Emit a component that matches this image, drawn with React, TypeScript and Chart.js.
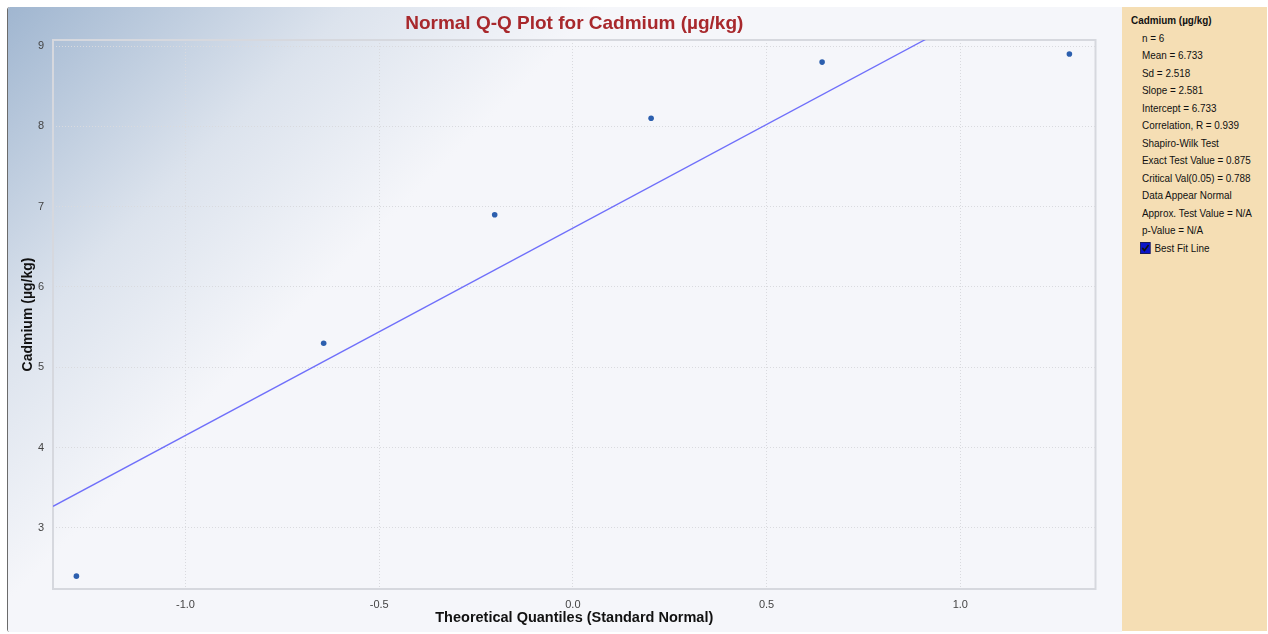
import { useEffect, useRef } from 'react';
import { Chart, registerables } from 'chart.js';

Chart.register(...registerables);

// ---- Data ----
const theoreticalQuantiles = [-1.2816, -0.6433, -0.2019, 0.2019, 0.6433, 1.2816];
const cadmiumValues = [2.4, 5.3, 6.9, 8.1, 8.8, 8.9];
const fitSlope = 2.581;
const fitIntercept = 6.733;
const xRange = [-1.342, 1.349];
const yRange = [2.24, 9.075];
const xTicks = [-1.0, -0.5, 0.0, 0.5, 1.0];
const yTicks = [3, 4, 5, 6, 7, 8, 9];
const statsTitle = 'Cadmium (µg/kg)';
const statsLines = [
  'n = 6',
  'Mean = 6.733',
  'Sd = 2.518',
  'Slope = 2.581',
  'Intercept = 6.733',
  'Correlation, R = 0.939',
  'Shapiro-Wilk Test',
  'Exact Test Value = 0.875',
  'Critical Val(0.05) = 0.788',
  'Data Appear Normal',
  'Approx. Test Value = N/A',
  'p-Value = N/A',
];
const fitLabel = 'Best Fit Line';

const FONT = "'Liberation Sans', Arial, sans-serif";

const bgPlugin = {
  id: 'bgPlugin',
  beforeDraw(chart: any) {
    const { ctx, width, height } = chart;
    ctx.save();
    const g = ctx.createLinearGradient(0, 0, 450, 450);
    g.addColorStop(0, '#a0b6d0');
    g.addColorStop(0.38, '#dce3ed');
    g.addColorStop(0.66, '#f5f6fa');
    g.addColorStop(1, '#f5f6fa');
    ctx.fillStyle = g;
    ctx.fillRect(0, 0, width, height);
    ctx.restore();
  },
  beforeDatasetsDraw(chart: any) {
    const { ctx, chartArea: a } = chart;
    ctx.save();
    ctx.strokeStyle = '#d6d8de';
    ctx.lineWidth = 2;
    ctx.strokeRect(a.left, a.top, a.right - a.left, a.bottom - a.top);
    ctx.restore();
  },
};

export default function App() {
  const ref = useRef<HTMLCanvasElement>(null);

  useEffect(() => {
    if (!ref.current) return;
    const points = theoreticalQuantiles.map((x, i) => ({ x, y: cadmiumValues[i] }));
    const fit = xRange.map((x) => ({ x, y: fitIntercept + fitSlope * x }));
    const chart = new Chart(ref.current, {
      type: 'scatter',
      data: {
        datasets: [
          {
            type: 'line',
            label: fitLabel,
            data: fit,
            borderColor: '#6f6ffa',
            borderWidth: 1.3,
            pointRadius: 0,
            fill: false,
          } as any,
          {
            label: 'Cadmium',
            data: points,
            backgroundColor: '#2c5fae',
            borderWidth: 0,
            pointRadius: 2.8,
          },
        ],
      },
      plugins: [bgPlugin],
      options: {
        animation: false,
        responsive: false,
        devicePixelRatio: 1,
        layout: { padding: { left: 0, right: 26.5, top: 0, bottom: 0 } },
        plugins: {
          legend: { display: false },
          tooltip: { enabled: false },
          title: {
            display: true,
            text: 'Normal Q-Q Plot for Cadmium (µg/kg)',
            color: '#a8282c',
            fullSize: false,
            font: { family: FONT, size: 19, weight: 'bold', lineHeight: 1.2 },
            padding: { top: 5, bottom: 5.2 },
          },
        },
        scales: {
          x: {
            type: 'linear',
            min: xRange[0],
            max: xRange[1],
            afterBuildTicks: (s: any) => {
              s.ticks = xTicks.map((v) => ({ value: v }));
            },
            afterFit: (s: any) => {
              s.height = 43;
            },
            grid: { color: '#d9dade', drawTicks: false, lineWidth: 1 },
            border: { display: false, dash: [1, 2] },
            ticks: {
              padding: 9,
              color: '#444',
              font: { family: FONT, size: 11 },
              callback: (v: any) => Number(v).toFixed(1),
            },
            title: {
              display: true,
              text: 'Theoretical Quantiles (Standard Normal)',
              color: '#111',
              font: { family: FONT, size: 14.5, weight: 'bold', lineHeight: 1.2 },
              padding: { top: 0, bottom: 5.3 },
            },
          },
          y: {
            type: 'linear',
            min: yRange[0],
            max: yRange[1],
            afterBuildTicks: (s: any) => {
              s.ticks = yTicks.map((v) => ({ value: v }));
            },
            afterFit: (s: any) => {
              s.width = 45;
            },
            grid: { color: '#d9dade', drawTicks: false, lineWidth: 1 },
            border: { display: false, dash: [1, 2] },
            ticks: {
              padding: 9,
              color: '#444',
              font: { family: FONT, size: 11 },
              callback: (v: any) => String(v),
            },
            title: {
              display: true,
              text: 'Cadmium (µg/kg)',
              color: '#111',
              font: { family: FONT, size: 14, weight: 'bold', lineHeight: 1.2 },
              padding: { top: 11.6, bottom: 0 },
            },
          },
        },
      },
    });
    return () => chart.destroy();
  }, []);

  const lineStyle: any = {
    whiteSpace: 'nowrap',
    transform: 'scaleX(0.9)',
    transformOrigin: 'left center',
    height: 17.5,
  };

  return (
    <div style={{ position: 'absolute', left: 0, top: 0, width: 1268, height: 634, background: '#fff', overflow: 'hidden' }}>
      <div
        style={{
          position: 'absolute',
          left: 7,
          top: 7,
          width: 1114,
          height: 625,
          borderLeft: '1px solid #6b6b6b',
          borderRadius: '3px 0 0 3px',
          overflow: 'hidden',
        }}
      >
        <canvas ref={ref} width={1114} height={625} style={{ display: 'block', width: 1114, height: 625 }} />
      </div>
      <div
        style={{
          position: 'absolute',
          left: 1122,
          top: 7,
          width: 145,
          height: 624,
          background: '#f5deb4',
          fontFamily: FONT,
          fontSize: 11,
          color: '#111',
          lineHeight: '17.5px',
          paddingTop: 5,
          boxSizing: 'border-box',
        }}
      >
        <div style={{ ...lineStyle, marginLeft: 9, fontWeight: 'bold' }}>{statsTitle}</div>
        {statsLines.map((t) => (
          <div key={t} style={{ ...lineStyle, marginLeft: 20 }}>
            {t}
          </div>
        ))}
        <div style={{ ...lineStyle, marginLeft: 18, display: 'flex', alignItems: 'center' }}>
          <svg width="12" height="12" style={{ marginRight: 4 }}>
            <rect x="0.5" y="0.5" width="11" height="11" fill="#0a14c8" stroke="#1a1a5a" />
            <path d="M2.5 6 L5 8.5 L9.5 3" stroke="#111" strokeWidth="1.8" fill="none" />
          </svg>
          {fitLabel}
        </div>
      </div>
    </div>
  );
}
